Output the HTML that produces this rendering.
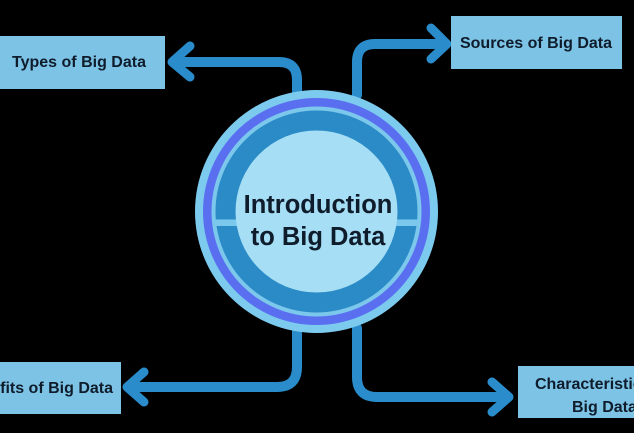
<!DOCTYPE html>
<html>
<head>
<meta charset="utf-8">
<style>
  html,body{margin:0;padding:0;background:#000;width:634px;height:433px;overflow:hidden;}
  svg{display:block;}
  text{font-family:"Liberation Sans",Arial,sans-serif;font-weight:bold;fill:#0f1c2b;}
</style>
</head>
<body>
<svg width="634" height="433" viewBox="0 0 634 433" xmlns="http://www.w3.org/2000/svg">
  <rect x="0" y="0" width="634" height="433" fill="#000"/>

  <!-- connectors -->
  <g fill="none" stroke="#2b8ccb" stroke-width="10" stroke-linecap="round" stroke-linejoin="round">
    <!-- Types (top-left) -->
    <path d="M297,95 L297,80 Q297,62 279,62 L176,62"/>
    <path d="M190,46 L172,62 L190,77" stroke-width="9"/>
    <!-- Sources (top-right) -->
    <path d="M357,95 L357,62 Q357,44 375,44 L444,44"/>
    <path d="M431,28 L447,44 L431,59" stroke-width="9"/>
    <!-- Benefits (bottom-left) -->
    <path d="M297,328 L297,367 Q297,387 277,387 L130,387"/>
    <path d="M144,372 L127,387 L144,402" stroke-width="9"/>
    <!-- Characteristics (bottom-right) -->
    <path d="M357,328 L357,377 Q357,397 377,397 L506,397"/>
    <path d="M492,382 L509,397 L492,412" stroke-width="9"/>
  </g>

  <!-- central circle -->
  <circle cx="316.5" cy="211.5" r="121.5" fill="#7ccbee"/>
  <circle cx="316.5" cy="211.5" r="113.5" fill="#5a6ff0"/>
  <circle cx="316.5" cy="211.5" r="105" fill="#7cc8ec"/>
  <circle cx="316.5" cy="211.5" r="101" fill="#2b8bc6"/>
  <rect x="214" y="219.5" width="205" height="6.5" fill="#7cc8ec"/>
  <circle cx="316.5" cy="211.5" r="81" fill="#a5def5"/>

  <text x="318" y="213" font-size="25.5" text-anchor="middle">Introduction</text>
  <text x="318" y="245" font-size="25.5" text-anchor="middle">to Big Data</text>

  <!-- boxes -->
  <rect x="0" y="36" width="165" height="53" fill="#7cc3e5"/>
  <text x="79" y="67" font-size="16" text-anchor="middle">Types of Big Data</text>

  <rect x="451" y="16" width="171" height="53" fill="#7cc3e5"/>
  <text x="536" y="48" font-size="16" text-anchor="middle">Sources of Big Data</text>

  <rect x="0" y="362" width="121" height="52" fill="#7cc3e5"/>
  <text x="113" y="393" font-size="16" text-anchor="end">Benefits of Big Data</text>

  <rect x="518" y="366" width="180" height="52" fill="#7cc3e5"/>
  <text x="535" y="389" font-size="16">Characteristics of</text>
  <text x="572" y="412" font-size="16">Big Data</text>
</svg>
</body>
</html>
